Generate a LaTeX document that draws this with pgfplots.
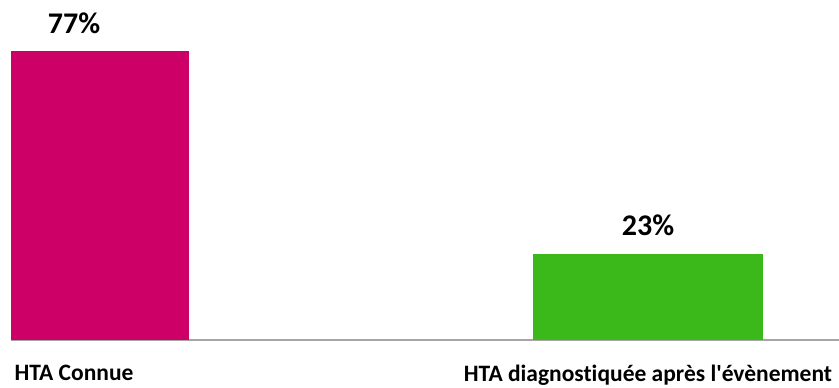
\documentclass[border=0pt]{standalone}
\usepackage{fontspec}
\setmainfont{Carlito}[Ligatures={TeXOff,CommonOff}]
\usepackage{pgfplots}
\pgfplotsset{compat=1.18}
\definecolor{hmag}{HTML}{CC0066}
\definecolor{hgreen}{HTML}{3CB91A}
\definecolor{baseline}{HTML}{A6A6A6}
\begin{document}
\begin{tikzpicture}
\begin{axis}[
  at={(11pt,48pt)}, anchor=south west,
  scale only axis,
  width=828pt, height=340pt,
  xmin=-0.1098, xmax=1.3328,
  ymin=0, ymax=90.6,
  axis y line=none,
  axis x line*=bottom,
  x axis line style={draw=baseline, line width=1.2pt, -},
  xtick={0,1},
  xticklabels={HTA Connue, HTA diagnostiquée après l'évènement},
  xtick style={draw=none},
  xticklabel style={font=\fontsize{23.5}{28}\selectfont\bfseries, yshift=-17pt},
  clip mode=individual,
  ybar, bar width=230pt,
  nodes near coords={\pgfmathprintnumber[assume math mode=true]{\pgfplotspointmeta}\%},
  nodes near coords style={font=\fontsize{30}{35}\selectfont\bfseries, anchor=south, yshift=14pt},
]
\addplot[fill=hmag, draw=none, bar shift=0pt] coordinates {(0,77)};
\addplot[fill=hgreen, draw=none, bar shift=0pt] coordinates {(1,23)};
\end{axis}
\pgfresetboundingbox
\path (0,0) rectangle (839pt,388pt);
\end{tikzpicture}
\end{document}
